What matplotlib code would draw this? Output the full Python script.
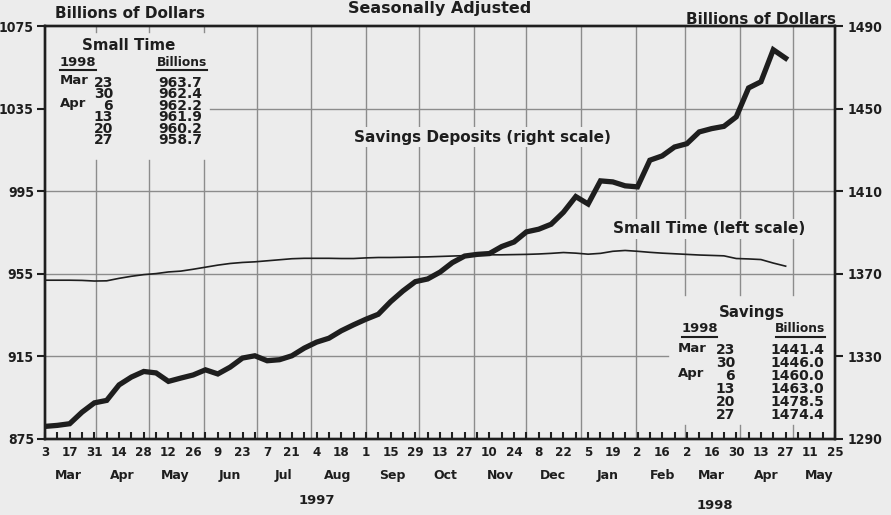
import numpy as np
import pandas as pd
import matplotlib
matplotlib.use("Agg")
import matplotlib.pyplot as plt
import matplotlib.dates as mdates
from matplotlib.lines import Line2D

# weekly figures (Mondays), billions of dollars, seasonally adjusted
dates = pd.date_range("1997-03-03", "1998-04-27", freq="7D")

small_time = [951.9, 951.9, 951.9, 951.8, 951.5, 951.6, 952.8, 953.8, 954.6, 955.1,
              955.9, 956.3, 957.2, 958.2, 959.2, 960.0, 960.5, 960.8, 961.3, 961.8,
              962.3, 962.5, 962.5, 962.5, 962.4, 962.4, 962.7, 962.9, 962.9, 963.0,
              963.1, 963.2, 963.4, 963.6, 963.8, 964.1, 964.2, 964.2, 964.3, 964.4,
              964.6, 964.9, 965.3, 965.0, 964.5, 964.9, 965.9, 966.3, 965.9, 965.4,
              965.0, 964.7, 964.4, 964.1, 963.9, 963.7, 962.4, 962.2, 961.9, 960.2,
              958.7]

savings = [1296.1, 1296.6, 1297.4, 1303.0, 1307.5, 1308.7, 1316.2, 1320.0, 1322.7, 1322.0,
           1317.9, 1319.5, 1321.0, 1323.5, 1321.5, 1324.8, 1329.2, 1330.3, 1327.9, 1328.4,
           1330.3, 1334.0, 1336.9, 1338.8, 1342.4, 1345.3, 1348.0, 1350.4, 1356.5, 1361.7,
           1366.2, 1367.5, 1370.8, 1375.4, 1378.6, 1379.4, 1379.8, 1383.2, 1385.4, 1390.3,
           1391.6, 1394.0, 1399.8, 1407.4, 1403.8, 1415.0, 1414.5, 1412.6, 1412.1, 1425.0,
           1427.1, 1431.4, 1433.0, 1438.7, 1440.3, 1441.4, 1446.0, 1460.0, 1463.0, 1478.5,
           1474.4]

# inset tables
table_months = ["Mar", "", "Apr", "", "", ""]
table_days = ["23", "30", "6", "13", "20", "27"]
small_time_table = ["963.7", "962.4", "962.2", "961.9", "960.2", "958.7"]
savings_table = ["1441.4", "1446.0", "1460.0", "1463.0", "1478.5", "1474.4"]

left_ticks = [875, 915, 955, 995, 1035, 1075]
right_ticks = [1290, 1330, 1370, 1410, 1450, 1490]
month_names = ["Mar", "Apr", "May", "Jun", "Jul", "Aug", "Sep", "Oct", "Nov", "Dec",
               "Jan", "Feb", "Mar", "Apr", "May"]

BG = "#ececec"
INK = "#1e1e1e"
GRID = "#8c8c8c"
WORD = dict(family="DejaVu Sans", weight="bold", color=INK)
NUM = dict(family="DejaVu Sans", weight="bold", stretch="condensed", color=INK)

W_PX, H_PX = 891, 515
fig = plt.figure(figsize=(W_PX / 100, H_PX / 100), dpi=100)
fig.patch.set_facecolor(BG)

# plot box in pixels: x 45..835, y 26..439
ax = fig.add_axes([45 / W_PX, 1 - 439 / H_PX, 790 / W_PX, 413 / H_PX])
ax.set_facecolor(BG)
ax2 = ax.twinx()

x0 = mdates.date2num(pd.Timestamp("1997-03-03"))
x1 = mdates.date2num(pd.Timestamp("1998-05-25"))
ax.set_xlim(x0, x1)
ax.set_ylim(875, 1075)
ax2.set_ylim(1290, 1490)

# grid, broken where the tables sit
gkw = dict(color=GRID, lw=1.0, zorder=1)
ax.axhline(955, **gkw)
ax.axhline(995, **gkw)
ax.axhline(1035, xmin=0.209, **gkw)
ax.axhline(915, xmax=0.789, **gkw)
month_starts = pd.date_range("1997-04-01", "1998-05-01", freq="MS")
for m in month_starts:
    xm = mdates.date2num(m)
    if m.year == 1997 and m.month in (4, 5, 6):
        ax.axvline(xm, ymax=0.676, **gkw)
        ax.axvline(xm, ymin=0.985, **gkw)
    elif m.year == 1998 and m.month in (3, 4, 5):
        ax.axvline(xm, ymin=0.349, **gkw)
        ax.axvline(xm, ymax=0.034, **gkw)
    else:
        ax.axvline(xm, **gkw)

ax.plot(dates, small_time, color=INK, lw=1.2, zorder=3)
ax2.plot(dates, savings, color=INK, lw=3.8, solid_joinstyle="miter", zorder=3)

for a in (ax, ax2):
    for s in a.spines.values():
        s.set_linewidth(1.7)
        s.set_color(INK)

ax.set_yticks(left_ticks)
ax.set_yticklabels([str(v) for v in left_ticks], fontsize=10, **NUM)
ax.tick_params(axis="y", direction="out", length=6, width=1.5, pad=2, color=INK)
ax2.set_yticks(right_ticks)
ax2.set_yticklabels([str(v) for v in right_ticks], fontsize=10, **NUM)
ax2.tick_params(axis="y", direction="out", length=6, width=1.5, pad=3, color=INK)

major = pd.date_range("1997-03-03", "1998-05-25", freq="14D")
minor = pd.date_range("1997-03-10", "1998-05-25", freq="14D")
ax.set_xticks(mdates.date2num(major))
ax.set_xticklabels([str(d.day) for d in major], fontsize=9.5, **NUM)
ax.set_xticks(mdates.date2num(minor), minor=True)
ax.tick_params(axis="x", which="both", direction="in", length=5, width=1.5,
               pad=5, color=INK)

# month names under the day numbers, centred mid-month
xt = ax.get_xaxis_transform()
mids = [pd.Timestamp("1997-03-16")] + list(
    pd.date_range("1997-04-01", "1998-05-01", freq="MS") + pd.Timedelta(days=15))
for name, d in zip(month_names, mids):
    ax.text(mdates.date2num(d), -0.088, name, ha="center", va="center",
            fontsize=9, transform=xt, **WORD)
ax.text(mdates.date2num(pd.Timestamp("1997-08-04")), -0.148, "1997", ha="center",
        va="center", fontsize=9.5, transform=xt, **WORD)
ax.text(mdates.date2num(pd.Timestamp("1998-03-18")), -0.16, "1998", ha="center",
        va="center", fontsize=9.5, transform=xt, **WORD)


def px(x, y):
    return x / W_PX, 1 - y / H_PX


fig.text(*px(440, 9), "Seasonally Adjusted", ha="center", va="center", fontsize=11.5, **WORD)
fig.text(*px(55, 14), "Billions of Dollars", ha="left", va="center", fontsize=11, **WORD)
fig.text(*px(836, 20), "Billions of Dollars", ha="right", va="center", fontsize=11, **WORD)

box = dict(facecolor=BG, edgecolor="none", pad=1.5)
fig.text(*px(482, 137), "Savings Deposits (right scale)", ha="center", va="center",
         fontsize=11, bbox=box, zorder=5, **WORD)
fig.text(*px(709, 229), "Small Time (left scale)", ha="center", va="center",
         fontsize=11, bbox=box, zorder=5, **WORD)


def draw_table(title, tx, ty, year_l, year_r, bill_l, bill_r, head_y, ul_y,
               month_x, day_x, val_x, row0, step, values):
    fig.text(*px(tx, ty), title, ha="center", va="center", fontsize=10.8, **WORD)
    fig.text(*px(year_l, head_y), "1998", ha="left", va="center", fontsize=9.5, **WORD)
    fig.text(*px(bill_r, head_y), "Billions", ha="right", va="center", fontsize=8.8, **WORD)
    for a, b in ((year_l, year_r), (bill_l, bill_r)):
        fig.add_artist(Line2D([a / W_PX, b / W_PX], [1 - ul_y / H_PX] * 2,
                              color=INK, lw=1.5))
    for i, mon in enumerate(table_months):
        if mon:
            fig.text(*px(month_x, row0 + i * step), mon, ha="left", va="center",
                     fontsize=9.5, **WORD)
    # one block per column; linespacing sets the row pitch
    fs = 10
    em = fs * 100 / 72
    asc, desc = 0.76 * em, 0.236 * em
    ls = (step - desc) / asc
    top = row0 + 0.365 * em - asc
    fig.text(*px(day_x, top), "\n".join(table_days), ha="right", va="top",
             multialignment="right", linespacing=ls, fontsize=fs, **WORD)
    fig.text(*px(val_x, top), "\n".join(values), ha="right", va="top",
             multialignment="right", linespacing=ls, fontsize=fs, **WORD)


draw_table("Small Time", 129, 46, 60, 96, 157, 207, 63, 70, 60, 113, 202,
           81, 11.5, small_time_table)
draw_table("Savings", 752, 313, 682, 717, 776, 825, 328, 337, 678, 735, 824,
           348, 13.0, savings_table)

fig.savefig("out.png", dpi=100, facecolor=BG)
